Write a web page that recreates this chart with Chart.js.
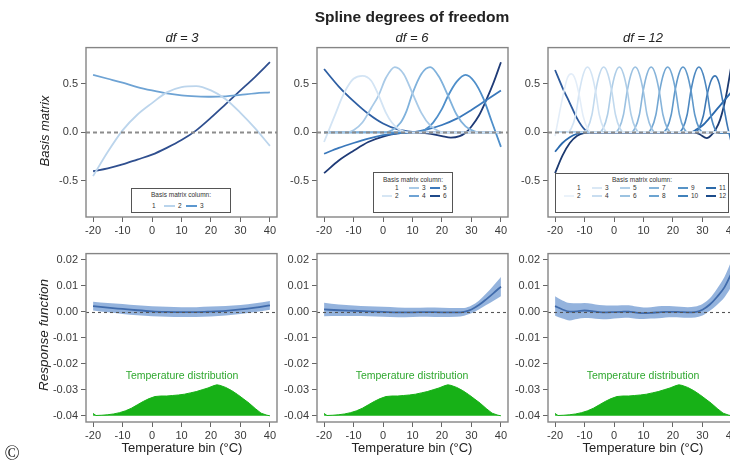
<!DOCTYPE html>
<html><head><meta charset="utf-8">
<script src="https://cdn.jsdelivr.net/npm/chart.js@4.4.1/dist/chart.umd.min.js"></script>
<style>
html,body{margin:0;padding:0;background:#fff;}
body{width:730px;height:464px;overflow:hidden;position:relative;font-family:"Liberation Sans",Arial,sans-serif;}
canvas{position:absolute;}
.t{position:absolute;white-space:nowrap;transform:translate(-50%,-50%);color:#222;line-height:1;}
.it{font-style:italic;}
.rot{transform:translate(-50%,-50%) rotate(-90deg);}
.leg{position:absolute;border:1px solid #555;background:#fff;box-sizing:border-box;}
.leg span{position:absolute;font-size:6.5px;line-height:1;color:#333;white-space:nowrap;}
.leg i{position:absolute;height:1.6px;}
</style></head><body>
<canvas id="c1" width="246" height="204" style="left:36px;top:38px"></canvas>
<canvas id="c2" width="246" height="204" style="left:267px;top:38px"></canvas>
<canvas id="c3" width="246" height="204" style="left:498px;top:38px"></canvas>
<canvas id="c4" width="246" height="203" style="left:36px;top:244px"></canvas>
<canvas id="c5" width="246" height="203" style="left:267px;top:244px"></canvas>
<canvas id="c6" width="246" height="203" style="left:498px;top:244px"></canvas>

<div class="t" style="left:412px;top:17px;font-weight:bold;font-size:15.5px;">Spline degrees of freedom</div>
<div class="t it" style="left:182px;top:37px;font-size:13px;">df = 3</div>
<div class="t it" style="left:412px;top:37px;font-size:13px;">df = 6</div>
<div class="t it" style="left:643px;top:37px;font-size:13px;">df = 12</div>
<div class="t it rot" style="left:44px;top:131px;font-size:13px;">Basis matrix</div>
<div class="t it rot" style="left:44px;top:335px;font-size:13.5px;">Response function</div>
<div class="t" style="left:182px;top:447px;font-size:13px;">Temperature bin (°C)</div>
<div class="t" style="left:412px;top:447px;font-size:13px;">Temperature bin (°C)</div>
<div class="t" style="left:643px;top:447px;font-size:13px;">Temperature bin (°C)</div>
<div class="t" style="left:182px;top:375px;font-size:10.5px;color:#2fa82f;">Temperature distribution</div>
<div class="t" style="left:412px;top:375px;font-size:10.5px;color:#2fa82f;">Temperature distribution</div>
<div class="t" style="left:643px;top:375px;font-size:10.5px;color:#2fa82f;">Temperature distribution</div>
<div class="t" style="left:12px;top:453px;font-size:20px;font-family:'Liberation Serif','Times New Roman',serif;">©</div>

<div id="leg1" class="leg" style="left:131px;top:188px;width:100px;height:25px;"></div>
<div id="leg2" class="leg" style="left:373px;top:172px;width:80px;height:41px;"></div>
<div id="leg3" class="leg" style="left:555px;top:173px;width:174px;height:40px;"></div>

<script>
// ---------------- DATA ----------------
const xTicks = [-20, -10, 0, 10, 20, 30, 40];
const topYTicks = [-0.5, 0, 0.5];
const botYTicks = [-0.04, -0.03, -0.02, -0.01, 0, 0.01, 0.02];

// df = 3 basis (temperature every 5 °C)
const tempGrid5 = [-20, -15, -10, -5, 0, 5, 10, 15, 20, 25, 30, 35, 40];
const df3Col1 = [-0.45, -0.2, 0.02, 0.18, 0.3, 0.41, 0.465, 0.475, 0.43, 0.34, 0.2, 0.04, -0.14];
const df3Col2 = [0.59, 0.55, 0.51, 0.465, 0.43, 0.40, 0.38, 0.37, 0.365, 0.37, 0.385, 0.40, 0.41];
const df3Col3 = [-0.40, -0.37, -0.33, -0.28, -0.23, -0.16, -0.08, 0.02, 0.15, 0.29, 0.43, 0.57, 0.72];

// df = 6 basis ([temperature, value])
const df6Bump1 = [[-20,-0.1],[-18,0.05],[-16,0.2],[-14,0.35],[-12,0.47],[-10,0.55],[-7,0.58],[-4,0.53],[-1.5,0.38],[1,0.2],[3,0.1],[5,0.04],[7,0.01],[9,0],[40,0]];
const df6Bump2 = [[-20,0],[-12,0],[-10,0.02],[-7,0.1],[-4,0.25],[-1.5,0.38],[1,0.56],[4,0.67],[7,0.6],[10,0.4],[13,0.2],[16,0.07],[19,0.01],[21,0],[40,0]];
const df6Bump3 = [[-20,0],[1,0],[3,0.02],[6,0.1],[8,0.22],[10,0.4],[13,0.6],[16,0.67],[19,0.57],[22,0.38],[25,0.18],[28,0.06],[31,0.01],[33,0],[40,0]];
const df6Bump4 = [[-20,0],[12,0],[14,0.02],[17,0.1],[20,0.24],[22,0.37],[25,0.52],[28,0.59],[31,0.52],[34,0.35],[37,0.1],[40,-0.15]];
const df6Desc  = [[-20,0.65],[-15,0.47],[-10,0.32],[-5,0.19],[0,0.09],[5,0.03],[10,0.005],[15,0],[40,0]];
const df6Tail1 = [[-20,-0.22],[-15,-0.16],[-10,-0.11],[-5,-0.065],[0,-0.03],[5,-0.01],[10,0],[15,0.03],[20,0.075],[25,0.14],[30,0.23],[35,0.33],[40,0.43]];
const df6Tail2 = [[-20,-0.42],[-15,-0.29],[-10,-0.19],[-5,-0.1],[0,-0.045],[5,-0.012],[10,0],[15,-0.01],[20,-0.04],[23,-0.055],[26,-0.04],[28,-0.005],[30,0.06],[32.5,0.17],[35,0.33],[37.5,0.51],[40,0.72]];

// df = 12 basis ([temperature, value])
const df12Bump1  = [[-20,-0.04],[-18.5,0.2],[-17,0.42],[-15.8,0.56],[-14.5,0.6],[-13.1,0.54],[-11.8,0.38],[-10.5,0.17],[-9,0.04],[-7.5,0],[40,0]];
const df12Bump2  = [[-20,0],[-16,0],[-14.5,0.04],[-13,0.18],[-11.75,0.42],[-10.4,0.6],[-9,0.67],[-7.6,0.6],[-6.25,0.42],[-5,0.18],[-3.5,0.04],[-2,0],[40,0]];
const df12Bump3  = [[-20,0],[-10.5,0],[-9,0.04],[-7.5,0.18],[-6.25,0.42],[-4.9,0.6],[-3.5,0.67],[-2.1,0.6],[-0.75,0.42],[0.5,0.18],[2,0.04],[3.5,0],[40,0]];
const df12Bump4  = [[-20,0],[-5.2,0],[-3.7,0.04],[-2.2,0.18],[-0.95,0.42],[0.4,0.6],[1.8,0.67],[3.2,0.6],[4.55,0.42],[5.8,0.18],[7.3,0.04],[8.8,0],[40,0]];
const df12Bump5  = [[-20,0],[0.2,0],[1.7,0.04],[3.2,0.18],[4.45,0.42],[5.8,0.6],[7.2,0.67],[8.6,0.6],[9.95,0.42],[11.2,0.18],[12.7,0.04],[14.2,0],[40,0]];
const df12Bump6  = [[-20,0],[5.6,0],[7.1,0.04],[8.6,0.18],[9.85,0.42],[11.2,0.6],[12.6,0.67],[14,0.6],[15.35,0.42],[16.6,0.18],[18.1,0.04],[19.6,0],[40,0]];
const df12Bump7  = [[-20,0],[11.2,0],[12.7,0.04],[14.2,0.18],[15.45,0.42],[16.8,0.6],[18.2,0.67],[19.6,0.6],[20.95,0.42],[22.2,0.18],[23.7,0.04],[25.2,0],[40,0]];
const df12Bump8  = [[-20,0],[16.4,0],[17.9,0.04],[19.4,0.18],[20.65,0.42],[22,0.6],[23.4,0.67],[24.8,0.6],[26.15,0.42],[27.4,0.18],[28.9,0.04],[30.4,0],[40,0]];
const df12Bump9  = [[-20,0],[21.8,0],[23.3,0.04],[24.8,0.18],[26.05,0.42],[27.4,0.6],[28.8,0.67],[30.2,0.6],[31.55,0.42],[32.8,0.18],[34.3,0.03],[36,-0.01],[38,-0.01],[40,0]];
const df12Bump10 = [[-20,0],[27.3,0],[28.8,0.04],[30.3,0.17],[31.55,0.38],[32.9,0.53],[34.3,0.58],[35.7,0.5],[37,0.3],[38.5,0.06],[40,-0.13]];
const df12Desc   = [[-20,0.64],[-17.5,0.46],[-15,0.3],[-12.5,0.14],[-10,0.03],[-8,0],[40,0]];
const df12Tail1  = [[-20,-0.2],[-17.5,-0.11],[-15,-0.05],[-12.5,-0.015],[-10,0],[26,0],[28,0.03],[30,0.07],[32.5,0.15],[35,0.24],[37.5,0.33],[40,0.42]];
const df12Tail2  = [[-20,-0.42],[-17.5,-0.24],[-15,-0.11],[-12.5,-0.035],[-10,-0.005],[-8,0],[27,0],[29,-0.02],[31.5,-0.06],[33,-0.03],[34.5,0.03],[36,0.13],[38,0.37],[40,0.72]];

// Response functions
const resp3Mid = [0.0022,0.0016,0.0011,0.0006,0.0002,0.0,-0.0001,-0.0001,0.0001,0.0004,0.0009,0.0016,0.0025];
const resp3Lo  = [0.0005,-0.0002,-0.0008,-0.0013,-0.0017,-0.0019,-0.002,-0.002,-0.0018,-0.0014,-0.0008,-0.0001,0.0008];
const resp3Hi  = [0.0039,0.0034,0.003,0.0025,0.0021,0.0019,0.0018,0.0018,0.002,0.0022,0.0026,0.0033,0.0042];

const resp6X   = [-20,-15,-10,-5,0,5,10,15,20,25,27.5,30,32.5,35,37.5,40];
const resp6Mid = [0.0009,0.0006,0.0004,0.0002,0.0,-0.0002,-0.0002,-0.0001,-0.0002,-0.0002,0.0,0.0009,0.0026,0.0048,0.0072,0.0097];
const resp6Lo  = [-0.0017,-0.0016,-0.0016,-0.0017,-0.0019,-0.0021,-0.002,-0.0019,-0.002,-0.0019,-0.0015,-0.0006,0.0009,0.0026,0.0043,0.006];
const resp6Hi  = [0.0035,0.0028,0.0024,0.0021,0.0019,0.0017,0.0016,0.0017,0.0016,0.0015,0.0015,0.0024,0.0043,0.007,0.0101,0.0134];

const resp12X   = [-20,-17.5,-15,-12.5,-10,-7.5,-5,-2.5,0,2.5,5,7.5,10,12.5,15,17.5,20,22.5,25,27.5,30,32.5,35,37.5,40];
const resp12Mid = [0.0022,0.0009,0.0001,0.0002,0.0005,0.0003,-0.0001,-0.0002,-0.0001,0.0,0.0001,-0.0003,-0.0005,-0.0004,-0.0002,0.0,0.0,-0.0001,-0.0002,-0.0001,0.0008,0.0028,0.0058,0.0095,0.0152];
const resp12Hi  = [0.006,0.0044,0.0034,0.0033,0.0034,0.0031,0.0026,0.0024,0.0024,0.0025,0.0025,0.002,0.0017,0.0018,0.0021,0.0022,0.0021,0.0019,0.0018,0.002,0.003,0.0052,0.009,0.0135,0.02];
const resp12Lo  = [-0.0015,-0.0026,-0.0033,-0.0028,-0.0024,-0.0025,-0.0028,-0.0029,-0.0026,-0.0024,-0.0023,-0.0027,-0.0028,-0.0026,-0.0025,-0.0022,-0.0021,-0.0022,-0.0023,-0.0022,-0.0014,0.0004,0.0027,0.0056,0.01];

// Temperature distribution (drawn on the response-function scale)
const distX = [-20,-19,-17,-15,-13,-11,-9,-7,-5,-3,-1,1,3,5,7,9,11,13,15,17,19,21,22,23,25,27,29,31,33,35,37,39,40];
const distY = [-0.0391,-0.0399,-0.0398,-0.0396,-0.0393,-0.0388,-0.0381,-0.0371,-0.0358,-0.0345,-0.0334,-0.0326,-0.0324,-0.0324,-0.0322,-0.032,-0.0317,-0.0312,-0.0307,-0.03,-0.0293,-0.0284,-0.0281,-0.0283,-0.0291,-0.0303,-0.0318,-0.0335,-0.0352,-0.0372,-0.039,-0.0398,-0.04];
const distBase = -0.04;

const legend3Labels = ['1','2','3'];
const legend6Labels = ['1','2','3','4','5','6'];
const legend12Labels = ['1','2','3','4','5','6','7','8','9','10','11','12'];

// ---------------- STYLE ----------------
const FONT = '"Liberation Sans", Arial, sans-serif';
const X_MIN = -22.4, X_MAX = 42.4;
const TOP_MIN = -0.87, TOP_MAX = 0.87;
const BOT_MIN = -0.0424, BOT_MAX = 0.0224;

const frame = {
  id: 'frame',
  afterDatasetsDraw(chart, args, o) {
    const {ctx, chartArea: ca, scales} = chart;
    const y0 = Math.round(scales.y.getPixelForValue(0)) + 0.5;
    ctx.save();
    ctx.beginPath(); ctx.rect(ca.left, ca.top, ca.width, ca.height); ctx.clip();
    ctx.strokeStyle = o.zeroColor; ctx.lineWidth = o.zeroWidth; ctx.setLineDash(o.dash);
    ctx.beginPath(); ctx.moveTo(ca.left, y0); ctx.lineTo(ca.right, y0); ctx.stroke();
    ctx.restore();
    ctx.save();
    ctx.strokeStyle = '#858585'; ctx.lineWidth = 1.4;
    ctx.strokeRect(ca.left, ca.top, ca.width, ca.height);
    ctx.restore();
  }
};

function axis(min, max, ticks, fmt, isX) {
  return {
    type: 'linear', min, max,
    afterBuildTicks: s => { s.ticks = ticks.map(v => ({value: v})); },
    afterFit: s => { if (isX) s.height = 25; else s.width = 50; },
    grid: {display: true, drawOnChartArea: false, drawTicks: true, tickLength: 5, color: '#666', lineWidth: 1},
    border: {display: false},
    ticks: {color: '#3a3a3a', font: {size: 11, family: FONT}, padding: isX ? 2 : 3,
            maxRotation: 0, autoSkip: false, callback: fmt}
  };
}

function makeChart(id, datasets, top) {
  new Chart(document.getElementById(id), {
    type: 'line',
    data: {datasets},
    plugins: [frame],
    options: {
      responsive: false, animation: false, devicePixelRatio: 1,
      layout: {padding: {top: 5, right: 5, left: 0, bottom: 0}},
      plugins: {legend: {display: false}, tooltip: {enabled: false},
        frame: top ? {zeroColor: '#8c8c8c', zeroWidth: 1.8, dash: [4, 3]}
                   : {zeroColor: '#555', zeroWidth: 1.1, dash: [3, 3]}},
      elements: {point: {radius: 0}},
      scales: {
        x: axis(X_MIN, X_MAX, xTicks, v => String(v), true),
        y: top ? axis(TOP_MIN, TOP_MAX, topYTicks, v => v.toFixed(1), false)
               : axis(BOT_MIN, BOT_MAX, botYTicks, v => v.toFixed(2), false)
      }
    }
  });
}

const pairs = a => a.map(([x, y]) => ({x, y}));
const zip = (xs, ys) => xs.map((x, i) => ({x, y: ys[i]}));
const curve = (data, color, w) => ({data, borderColor: color, borderWidth: w || 1.8, fill: false,
  cubicInterpolationMode: 'monotone', pointRadius: 0});

// top panels
makeChart('c1', [
  curve(zip(tempGrid5, df3Col1), '#bcd5ec'),
  curve(zip(tempGrid5, df3Col2), '#6ea3d4'),
  curve(zip(tempGrid5, df3Col3), '#2f4f8f')
], true);

makeChart('c2', [
  curve(pairs(df6Bump1), '#d3e4f4'),
  curve(pairs(df6Bump2), '#a9cae7'),
  curve(pairs(df6Bump3), '#80b2dc'),
  curve(pairs(df6Bump4), '#4f8fca'),
  curve(pairs(df6Desc), '#2e5fa3'),
  curve(pairs(df6Tail1), '#3a78bb'),
  curve(pairs(df6Tail2), '#1f3b77')
], true);

const df12Colors = ['#e3edf8','#d3e4f4','#c1d9ee','#aecde7','#9bc1e1','#87b4da','#73a7d3','#5f98ca','#4d88c0','#3d77b4'];
const df12Bumps = [df12Bump1, df12Bump2, df12Bump3, df12Bump4, df12Bump5, df12Bump6, df12Bump7, df12Bump8, df12Bump9, df12Bump10];
makeChart('c3', [
  ...df12Bumps.map((b, i) => curve(pairs(b), df12Colors[i], 1.6)),
  curve(pairs(df12Desc), '#2d5a9c'),
  curve(pairs(df12Tail1), '#2a69ad'),
  curve(pairs(df12Tail2), '#1c3a70')
], true);

// bottom panels
function respSets(xs, lo, hi, mid) {
  return [
    {data: zip(distX, distY), borderColor: '#17b117', backgroundColor: '#17b117', borderWidth: 1,
     fill: {value: distBase}, pointRadius: 0, tension: 0},
    {data: zip(xs, lo), borderWidth: 0, borderColor: 'rgba(0,0,0,0)', fill: false, pointRadius: 0, cubicInterpolationMode: 'monotone'},
    {data: zip(xs, hi), borderWidth: 0, borderColor: 'rgba(0,0,0,0)', backgroundColor: 'rgba(82,132,200,0.62)',
     fill: '-1', pointRadius: 0, cubicInterpolationMode: 'monotone'},
    curve(zip(xs, mid), '#26457f', 1.8)
  ];
}
makeChart('c4', respSets(tempGrid5, resp3Lo, resp3Hi, resp3Mid), false);
makeChart('c5', respSets(resp6X, resp6Lo, resp6Hi, resp6Mid), false);
makeChart('c6', respSets(resp12X, resp12Lo, resp12Hi, resp12Mid), false);

// legends
const legPalette3 = ['#ffffff', '#b9d4ec', '#5b97cf'];
const legPalette6 = ['#ffffff', '#d6e6f4', '#a9cae7', '#6ea3d4', '#3d7bbd', '#1f4a8a'];
const legPalette12 = ['#ffffff','#eaf2fa','#dae8f5','#c8ddf0','#b2d0e8','#9cc3e1','#84b4da','#6ca4d1','#5693c6','#4081bb','#2c6aa9','#1c4b8a'];

function buildLegend(id, labels, colors, cols, colX, rowY, titleY, lineLen) {
  const el = document.getElementById(id);
  const t = document.createElement('span');
  t.textContent = 'Basis matrix column:';
  t.style.left = '50%'; t.style.top = titleY + 'px'; t.style.transform = 'translate(-50%,-50%)';
  el.appendChild(t);
  labels.forEach((lab, i) => {
    const c = Math.floor(i / (labels.length / cols === 1 ? 1 : Math.ceil(labels.length / cols)));
    const rows = Math.ceil(labels.length / cols);
    const col = Math.floor(i / rows), row = i % rows;
    const x = colX[col], y = rowY[row];
    const ln = document.createElement('i');
    ln.style.left = (x - lineLen - 3) + 'px'; ln.style.top = (y - 0.8) + 'px';
    ln.style.width = lineLen + 'px'; ln.style.background = colors[i];
    el.appendChild(ln);
    const s = document.createElement('span');
    s.textContent = lab;
    s.style.left = x + 'px'; s.style.top = y + 'px'; s.style.transform = 'translate(0,-50%)';
    el.appendChild(s);
  });
}
buildLegend('leg1', legend3Labels, legPalette3, 3, [20, 46, 68], [17], 6, 11);
buildLegend('leg2', legend6Labels, legPalette6, 3, [21, 48, 69], [15, 23], 7, 10);
buildLegend('leg3', legend12Labels, legPalette12, 6, [21, 49, 77, 106, 135, 163], [14, 22], 6, 10);
</script>
</body></html>
